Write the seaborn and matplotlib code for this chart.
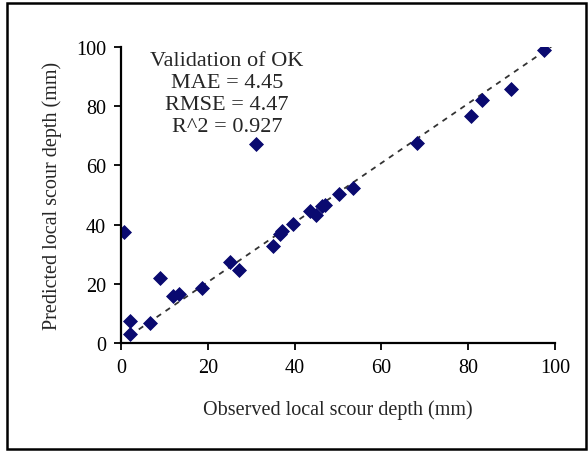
import matplotlib
matplotlib.use("Agg")
import matplotlib.pyplot as plt
import seaborn as sns
import pandas as pd
from matplotlib.patches import Rectangle

# observed vs predicted local scour depth (mm)
observed = [0.7, 2.0, 2.0, 6.7, 9.0, 12.0, 13.4, 18.7, 25.1, 27.2, 31.1,
            35.0, 36.6, 37.0, 39.6, 43.5, 44.9, 46.3, 47.0, 50.2, 53.5,
            68.2, 80.6, 83.2, 89.9, 97.5]
predicted = [37.5, 7.4, 3.0, 6.8, 22.0, 15.9, 16.6, 18.6, 27.4, 24.7, 67.2,
             32.8, 36.8, 37.8, 40.2, 44.6, 43.2, 46.3, 46.6, 50.3, 52.4,
             67.6, 76.7, 82.1, 85.8, 99.0]

# trend line end points
trend_x = [2.0, 100.0]
trend_y = [2.5, 101.0]

stats_lines = ["Validation of OK", "MAE = 4.45", "RMSE = 4.47", "R^2 = 0.927"]

df = pd.DataFrame({"observed": observed, "predicted": predicted})

sns.set_style("ticks")
plt.rcParams["font.family"] = ["Liberation Serif", "DejaVu Serif"]

fig = plt.figure(figsize=(5.88, 4.52), dpi=100)
ax = fig.add_axes([0.206, 0.239, 0.738, 0.655])

ax.plot(trend_x, trend_y, linestyle=(0, (3, 3)), color="#333333", linewidth=1.3, zorder=1)
sns.scatterplot(data=df, x="observed", y="predicted", marker="D", s=50,
                color="#0a0a70", edgecolor="#0a0a70", ax=ax, zorder=2)

ax.set_xlim(0, 100)
ax.set_ylim(0, 100)
ax.set_xticks(range(0, 101, 20))
ax.set_yticks(range(0, 101, 20))
ax.tick_params(labelsize=14.5, length=5, width=1.3, direction="out",
               colors="black", pad=6)
for side in ["left", "bottom"]:
    ax.spines[side].set_linewidth(1.6)
    ax.spines[side].set_color("black")
sns.despine(ax=ax)

ax.set_xlabel("Observed local scour depth (mm)", fontsize=14.5, labelpad=16)
ax.set_ylabel("Predicted local scour depth (mm)", fontsize=14.5, labelpad=10)

for i, line in enumerate(stats_lines):
    ax.text(0.244, 0.953 - i * 0.074, line, transform=ax.transAxes,
            ha="center", va="center", fontsize=16)

fig.patches.append(Rectangle((0.012, 0.005), 0.985, 0.987, transform=fig.transFigure,
                             fill=False, edgecolor="black", linewidth=1.8))

fig.savefig("out.png", dpi=100)
